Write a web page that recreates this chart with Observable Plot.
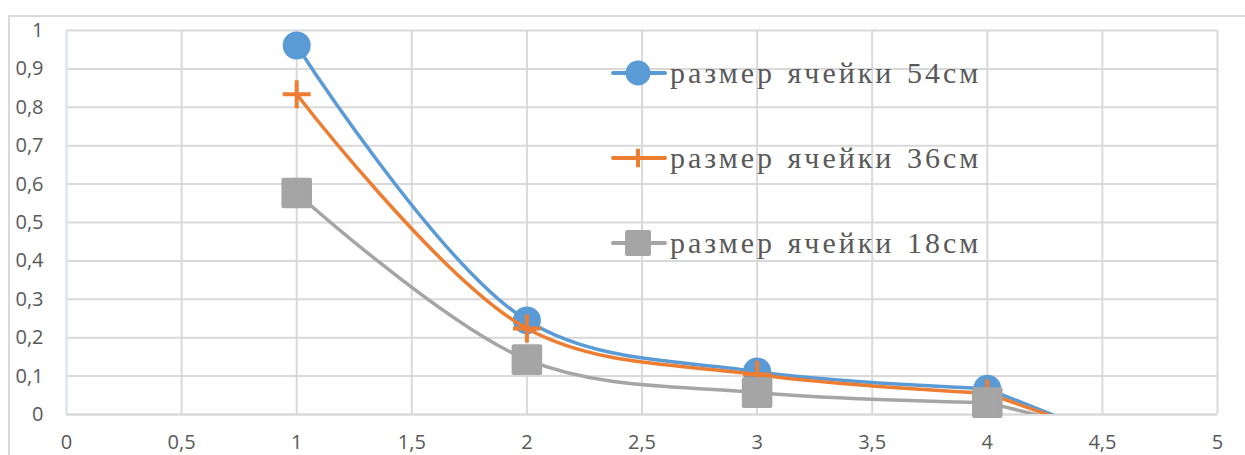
<!DOCTYPE html>
<html>
<head>
<meta charset="utf-8">
<script src="https://cdn.jsdelivr.net/npm/d3@7"></script>
<script src="https://cdn.jsdelivr.net/npm/@observablehq/plot@0.6"></script>
<style>
  html, body { margin: 0; padding: 0; background: #fff; }
  #wrap { position: relative; width: 1245px; height: 455px; overflow: hidden; }
  #frame { position: absolute; left: 8px; top: 15px; width: 1250px; height: 460px;
           border-left: 2px solid #d9d9d9; border-top: 2px solid #d9d9d9; box-sizing: border-box; }
  #legend { position: absolute; left: 610px; top: 50px; font-family: "Liberation Serif", "Times New Roman", serif;
            font-size: 30px; color: #595959; letter-spacing: 3px; word-spacing: 2px; }
  .item { position: absolute; left: 0; height: 40px; display: flex; align-items: center; white-space: nowrap; }
  .item svg { display: block; margin-right: 2px; }
</style>
</head>
<body>
<div id="wrap">
  <div id="frame"></div>
  <div id="chart" style="position:absolute;left:0;top:0;"></div>
  <div id="legend"></div>
</div>
<script>
// Data
const xValues = [1, 2, 3, 4, 5];
const seriesNames = ["размер ячейки 54см", "размер ячейки 36см", "размер ячейки 18см"];
const values54 = [0.961, 0.245, 0.112, 0.067, -0.172];
const values36 = [0.834, 0.224, 0.104, 0.055, -0.156];
const values18 = [0.577, 0.143, 0.057, 0.031, -0.117];
const colors = ["#5b9bd5", "#ed7d31", "#a5a5a5"];
const symbols = ["circle", "plus", "square"];
const xTicks = [0, 0.5, 1, 1.5, 2, 2.5, 3, 3.5, 4, 4.5, 5];
const yTicks = [0, 0.1, 0.2, 0.3, 0.4, 0.5, 0.6, 0.7, 0.8, 0.9, 1];

const allValues = [values54, values36, values18];
const n = xValues.length;
const fmt = v => String(v).replace(".", ",");

function seriesMarks(i) {
  const rows = xValues.map((x, j) => ({x, y: allValues[i][j], idx: j}));
  const smoothPart = rows.filter(d => d.idx <= n - 2);
  const tailPart = rows.filter(d => d.idx >= n - 2);
  const visible = rows.filter(d => d.y >= 0);
  const dotOpts = symbols[i] === "circle" ? {symbol: "circle", r: 14, fill: colors[i]}
    : symbols[i] === "plus" ? {symbol: "plus", r: 9, stroke: colors[i], strokeWidth: 4}
    : {symbol: "square", r: 15, fill: colors[i], stroke: colors[i], strokeWidth: 4, strokeLinejoin: "round"};
  return [
    Plot.line(smoothPart, {x: "x", y: "y", stroke: colors[i], strokeWidth: 3.5, curve: "catmull-rom", clip: "frame"}),
    Plot.line(tailPart, {x: "x", y: "y", stroke: colors[i], strokeWidth: 3.5, clip: "frame"}),
    Plot.dot(visible, {x: "x", y: "y", ...dotOpts})
  ];
}

const plot = Plot.plot({
  width: 1245,
  height: 455,
  marginLeft: 66,
  marginRight: 28,
  marginTop: 30,
  marginBottom: 41,
  style: {fontFamily: "Open Sans, Liberation Sans, sans-serif", fontSize: "20px", color: "#595959", background: "transparent", overflow: "visible"},
  x: {domain: [0, 5], label: null},
  y: {domain: [0, 1], label: null},
  marks: [
    Plot.gridX(xTicks, {stroke: "#d9d9d9", strokeOpacity: 1, strokeWidth: 2}),
    Plot.gridY(yTicks, {stroke: "#d9d9d9", strokeOpacity: 1, strokeWidth: 2}),
    Plot.ruleX([0], {stroke: "#dbe8f5", strokeWidth: 2}),
    Plot.ruleY([0], {stroke: "#d9d9d9", strokeWidth: 2}),
    Plot.axisX({ticks: xTicks, tickFormat: fmt, tickSize: 0, tickPadding: 20, label: null, fontSize: 20, fill: "#595959"}),
    Plot.axisY({ticks: yTicks, tickFormat: fmt, tickSize: 0, tickPadding: 23, label: null, fontSize: 20, fill: "#595959"}),
    ...seriesMarks(0),
    ...seriesMarks(1),
    ...seriesMarks(2)
  ]
});
document.getElementById("chart").appendChild(plot);

// Legend
const legend = document.getElementById("legend");
seriesNames.forEach((name, i) => {
  const item = document.createElement("div");
  item.className = "item";
  item.style.top = (i * 85 + 3) + "px";
  const ns = "http://www.w3.org/2000/svg";
  const svg = document.createElementNS(ns, "svg");
  svg.setAttribute("width", 58); svg.setAttribute("height", 40);
  const line = document.createElementNS(ns, "line");
  line.setAttribute("x1", 3); line.setAttribute("x2", 55); line.setAttribute("y1", 20); line.setAttribute("y2", 20);
  line.setAttribute("stroke", colors[i]); line.setAttribute("stroke-width", 4); line.setAttribute("stroke-linecap", "round");
  svg.appendChild(line);
  const p = document.createElementNS(ns, "path");
  let sym, size;
  if (symbols[i] === "circle") { sym = d3.symbolCircle; size = Math.PI * 12.5 * 12.5; }
  else if (symbols[i] === "plus") { sym = d3.symbolPlus; size = Math.PI * 6 * 6; }
  else { sym = d3.symbolSquare; size = 22 * 22; }
  p.setAttribute("d", d3.symbol(sym, size)());
  p.setAttribute("transform", "translate(28,20)");
  if (symbols[i] === "plus") { p.setAttribute("fill", "none"); p.setAttribute("stroke", colors[i]); p.setAttribute("stroke-width", 4); }
  else { p.setAttribute("fill", colors[i]); if (symbols[i] === "square") { p.setAttribute("stroke", colors[i]); p.setAttribute("stroke-width", 4); p.setAttribute("stroke-linejoin", "round"); } }
  svg.appendChild(p);
  item.appendChild(svg);
  const span = document.createElement("span");
  span.textContent = name;
  item.appendChild(span);
  legend.appendChild(item);
});
</script>
</body>
</html>
